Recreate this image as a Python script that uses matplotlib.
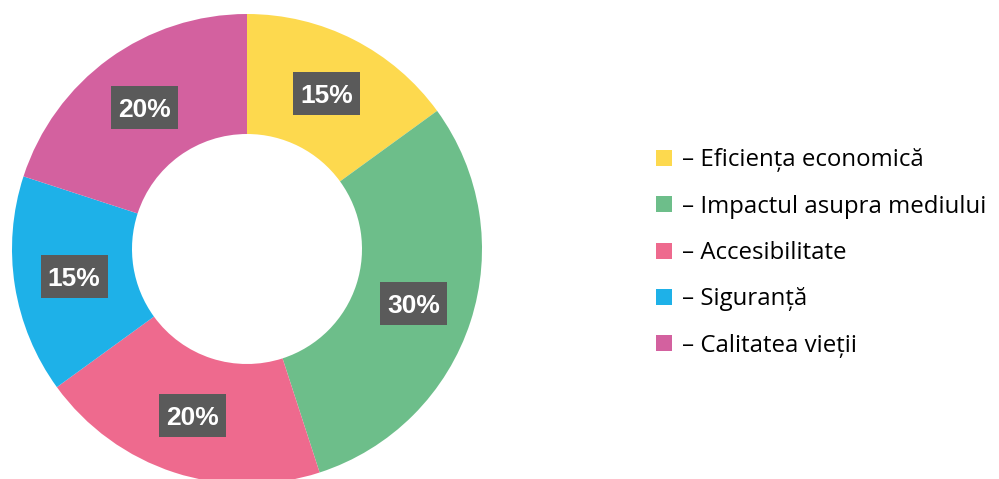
import numpy as np
import matplotlib.pyplot as plt
from matplotlib.patches import Patch, Rectangle

# share of each criterion, clockwise from the top
criterii = ['Eficiența economică', 'Impactul asupra mediului', 'Accesibilitate',
            'Siguranță', 'Calitatea vieții']
procente = [15, 30, 20, 15, 20]
culori = ['#FDD94E', '#6DBE8A', '#EE6A8E', '#1EB1E8', '#D3619F']

fig = plt.figure(figsize=(9.99, 4.79), dpi=100)
W, H = 999.0, 479.0
cx, cy, r = 247.0, 249.0, 235.0
r_in = 115.0
ax = fig.add_axes([(cx - r) / W, (H - cy - r) / H, 2 * r / W, 2 * r / H])

wedges, _ = ax.pie(procente, colors=culori, startangle=90, counterclock=False,
                   radius=1.0, wedgeprops=dict(width=1 - r_in / r, linewidth=0))
ax.set_xlim(-1, 1)
ax.set_ylim(-1, 1)
ax.set_aspect('equal')
ax.axis('off')

# percentage labels in dark boxes at the middle of the ring
mid_r = (1 + r_in / r) / 2
bw, bh = 67 / r, 43 / r
start = 90.0
for p in procente:
    ang = np.deg2rad(start - p * 3.6 / 2)
    start -= p * 3.6
    x, y = mid_r * np.cos(ang), mid_r * np.sin(ang)
    ax.add_patch(Rectangle((x - bw / 2, y - bh / 2), bw, bh, fc='#5a5a5a', ec='none', zorder=3))
    ax.text(x, y, '%d%%' % p, ha='center', va='center_baseline', color='white',
            fontsize=19, fontweight='bold', family='Liberation Sans', zorder=4)

handles = [Patch(facecolor=c, edgecolor='none') for c in culori]
etichete = ['– ' + c for c in criterii]
fig.legend(handles, etichete, loc='center left', bbox_to_anchor=(656 / W, 1 - 253 / H),
           frameon=False, prop={'family': 'Open Sans', 'size': 17.3},
           handlelength=0.65, handleheight=0.65, handletextpad=0.42,
           labelspacing=0.93, borderpad=0, borderaxespad=0)

fig.savefig('out.png', dpi=100)
